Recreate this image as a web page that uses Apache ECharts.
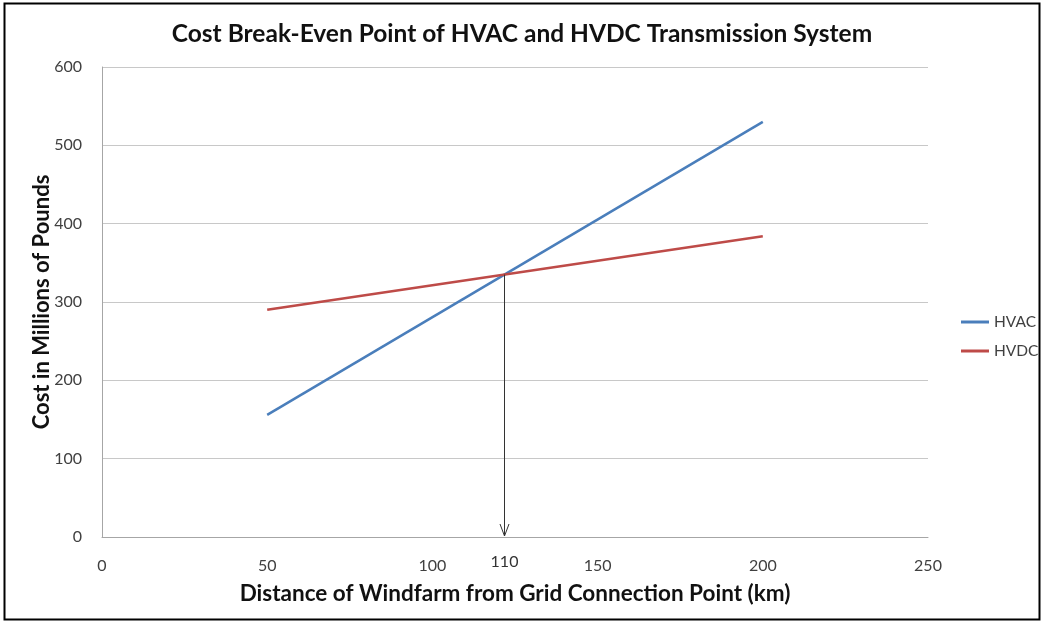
<!DOCTYPE html>
<html>
<head>
<meta charset="utf-8">
<script src="https://cdn.jsdelivr.net/npm/echarts@6/dist/echarts.min.js"></script>
<style>
  html, body { margin: 0; padding: 0; background: #ffffff; }
  #chart { width: 1044px; height: 623px; }
</style>
</head>
<body>
<div id="chart"></div>
<script>
// Distance from the grid connection point (km)
const distances = [50, 200];
// Cost in millions of pounds
const hvacCost = [156, 530];
const hvdcCost = [290, 384];
// Axis ticks
const xTicks = [0, 50, 100, 150, 200, 250];
const yTicks = [0, 100, 200, 300, 400, 500, 600];
// Break-even annotation text
const breakEvenLabel = '110';

const FONT = "Lato, 'Open Sans', sans-serif";

// Intersection of the two cost lines (both straight between their end points)
function breakEven() {
  const sA = (hvacCost[1] - hvacCost[0]) / (distances[1] - distances[0]);
  const sD = (hvdcCost[1] - hvdcCost[0]) / (distances[1] - distances[0]);
  const t = (hvdcCost[0] - hvacCost[0]) / (sA - sD);
  return [distances[0] + t, hvacCost[0] + sA * t];
}
const be = breakEven();

const chart = echarts.init(document.getElementById('chart'), null, { renderer: 'canvas' });

chart.setOption({
  backgroundColor: '#ffffff',
  animation: false,
  title: {
    text: 'Cost Break-Even Point of HVAC and HVDC Transmission System',
    left: 'center',
    top: 17,
    textStyle: { fontFamily: FONT, fontSize: 24.5, fontWeight: 'bold', color: '#111111' }
  },
  legend: {
    orient: 'vertical',
    left: 961,
    top: 314,
    padding: 0,
    itemWidth: 28,
    itemHeight: 3,
    itemGap: 13,
    icon: 'rect',
    data: ['HVAC', 'HVDC'],
    textStyle: { fontFamily: FONT, fontSize: 15.5, color: '#404040' }
  },
  grid: { left: 102, right: 116, top: 67, bottom: 86, containLabel: false },
  xAxis: {
    type: 'value',
    min: xTicks[0],
    max: xTicks[xTicks.length - 1],
    interval: xTicks[1] - xTicks[0],
    name: 'Distance of Windfarm from Grid Connection Point (km)',
    nameLocation: 'middle',
    nameGap: 45,
    nameMoveOverlap: false,
    nameTextStyle: { fontFamily: FONT, fontSize: 22.5, fontWeight: 'bold', color: '#111111' },
    axisLine: { lineStyle: { color: '#a6a6a6', width: 1 } },
    axisTick: { show: false },
    axisLabel: { fontFamily: FONT, fontSize: 16, color: '#404040', margin: 21 },
    splitLine: { show: false }
  },
  yAxis: {
    type: 'value',
    min: yTicks[0],
    max: yTicks[yTicks.length - 1],
    interval: yTicks[1] - yTicks[0],
    name: 'Cost in Millions of Pounds',
    nameLocation: 'middle',
    nameGap: 49,
    nameMoveOverlap: false,
    nameTextStyle: { fontFamily: FONT, fontSize: 22, fontWeight: 'bold', color: '#111111' },
    axisLine: { show: true, lineStyle: { color: '#a6a6a6', width: 1 } },
    axisTick: { show: false },
    axisLabel: { fontFamily: FONT, fontSize: 16, color: '#404040', margin: 20 },
    splitLine: { lineStyle: { color: '#c8c8c8', width: 1 } }
  },
  series: [
    {
      name: 'HVAC',
      type: 'line',
      data: distances.map((d, i) => [d, hvacCost[i]]),
      showSymbol: false,
      symbol: 'none',
      lineStyle: { color: '#4a7ebb', width: 2.5 },
      itemStyle: { color: '#4a7ebb' },
      z: 3
    },
    {
      name: 'HVDC',
      type: 'line',
      data: distances.map((d, i) => [d, hvdcCost[i]]),
      showSymbol: false,
      symbol: 'none',
      lineStyle: { color: '#be4b48', width: 2.5 },
      itemStyle: { color: '#be4b48' },
      z: 3
    },
    {
      // Arrow dropped from the break-even point to the distance axis
      name: 'breakEven',
      type: 'custom',
      data: [[be[0], be[1]]],
      silent: true,
      z: 4,
      renderItem: function (params, api) {
        const top = api.coord([api.value(0), api.value(1)]);
        const foot = api.coord([api.value(0), 0]);
        const x = Math.round(top[0]) + 0.5;
        return {
          type: 'group',
          children: [
            {
              type: 'line',
              shape: { x1: x, y1: top[1], x2: x, y2: foot[1] - 1 },
              style: { stroke: '#333333', lineWidth: 1 }
            },
            {
              type: 'polyline',
              shape: { points: [[x - 4.5, foot[1] - 13], [x, foot[1] - 1], [x + 4.5, foot[1] - 13]] },
              style: { stroke: '#333333', lineWidth: 1, fill: null }
            },
            {
              type: 'text',
              style: {
                x: x,
                y: foot[1] + 25,
                text: breakEvenLabel,
                align: 'center',
                verticalAlign: 'middle',
                font: '16px ' + FONT,
                fill: '#333333'
              }
            }
          ]
        };
      }
    }
  ],
  graphic: [
    {
      type: 'rect',
      shape: { x: 4.5, y: 3.5, width: 1035, height: 616 },
      style: { fill: null, stroke: '#000000', lineWidth: 2 },
      silent: true
    }
  ]
});
</script>
</body>
</html>
